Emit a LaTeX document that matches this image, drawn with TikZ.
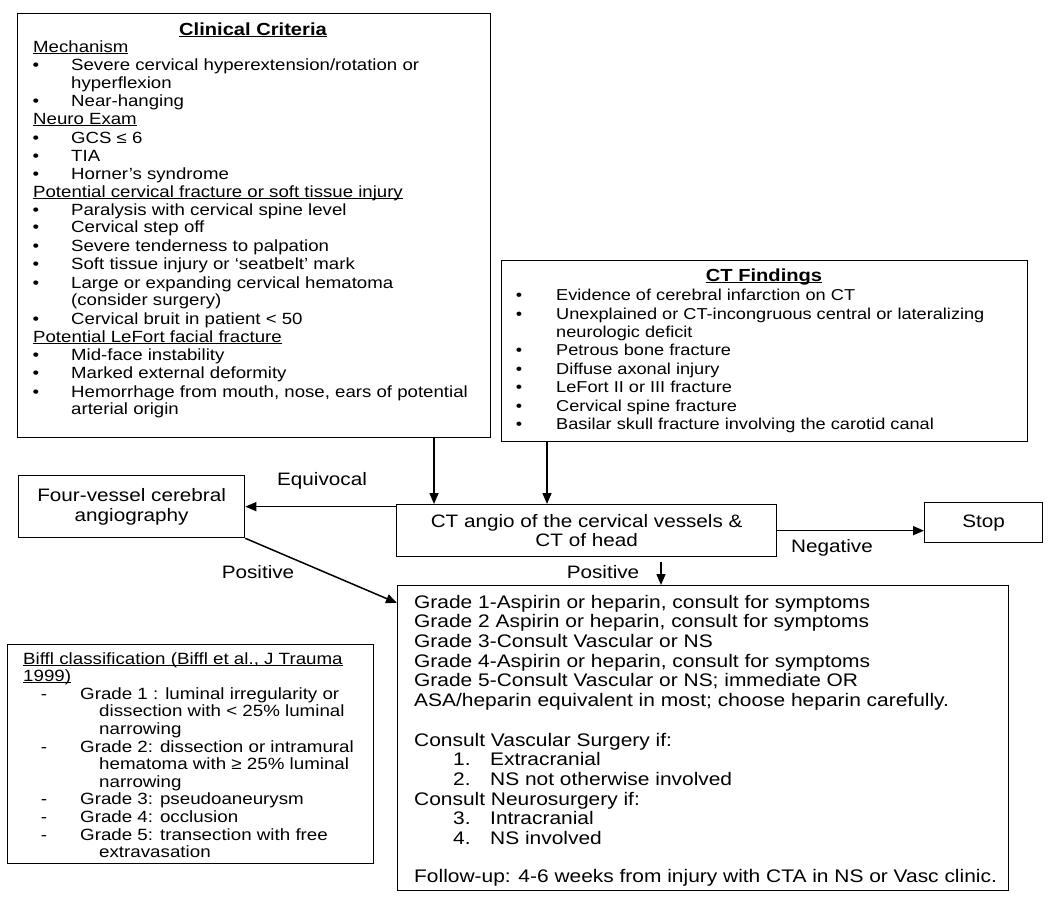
\documentclass[tikz,border=0pt]{standalone}
\usepackage{fontspec}
\setmainfont[FakeStretch=1.15]{Liberation Sans}
\usetikzlibrary{arrows.meta}
\newcounter{lnc}
\newcommand\tline[4][]{\stepcounter{lnc}\node[txt,#1] (L\arabic{lnc}) at (#2,#3) {#4};}
\newcommand\bitem[5]{\stepcounter{lnc}\node[txt,anchor=base] (B\arabic{lnc}) at (#1,#3) {#5};\tline{#2}{#3}{#4}}
\newcommand\ul[1]{\setbox0\hbox{#1}\rlap{\rule[-1.6pt]{\wd0}{0.9pt}}\box0}
\begin{document}
\begin{tikzpicture}[x=1pt,y=-1pt,
  box/.style={draw, line width=1.3pt, inner sep=0pt, anchor=north west},
  txt/.style={anchor=base west, inner sep=0pt},
  arr/.style={line width=1.5pt, -{Triangle[length=11pt,width=9pt]}},
  lbl/.style={inner sep=0pt, font=\fontsize{18}{20}\selectfont},
  fcc/.style={font=\fontsize{16.2}{18}\selectfont},
  fct/.style={font=\fontsize{15.8}{18}\selectfont},
  fgb/.style={font=\fontsize{18.2}{19.5}\selectfont},
  fbf/.style={font=\fontsize{16.3}{18}\selectfont}]
\useasboundingbox (0,0) rectangle (1054,902);

% ---------- boxes ----------
\node[box, minimum width=473pt, minimum height=424pt] (cc) at (17,13) {};
\node[box, minimum width=526pt, minimum height=181pt] (ctf) at (501,260) {};
\node[box, minimum width=226pt, minimum height=62pt, align=center, font=\fontsize{18}{20}\selectfont] (fv) at (18,475) {Four-vessel cerebral\\angiography};
\node[box, minimum width=380pt, minimum height=52pt, align=center, font=\fontsize{18}{19.5}\selectfont] (ang) at (396,504) {CT angio of the cervical vessels \&\\CT of head};
\node[box, minimum width=118pt, minimum height=40pt, font=\fontsize{18}{20}\selectfont] (stop) at (924,502) {Stop};
\node[box, minimum width=611pt, minimum height=305pt] (gb) at (397,585) {};
\node[box, minimum width=366pt, minimum height=219pt] (bf) at (7,644) {};

% ---------- Clinical criteria ----------
\node[anchor=base, inner sep=0pt, font=\bfseries\fontsize{17.5}{20}\selectfont] (cct) at (253,35) {\ul{Clinical Criteria}};
\begin{scope}[every node/.append style={fcc}]
\tline{33}{52}{\ul{Mechanism}}
\bitem{36}{71}{70}{Severe cervical hyperextension/rotation or}{\textbullet}
\tline{71}{88}{hyperflexion}
\bitem{36}{71}{106}{Near-hanging}{\textbullet}
\tline{33}{124}{\ul{Neuro Exam}}
\bitem{36}{71}{143}{GCS ≤ 6}{\textbullet}
\bitem{36}{71}{161}{TIA}{\textbullet}
\bitem{36}{71}{179}{Horner’s syndrome}{\textbullet}
\tline{33}{197}{\ul{Potential cervical fracture or soft tissue injury}}
\bitem{36}{71}{215}{Paralysis with cervical spine level}{\textbullet}
\bitem{36}{71}{232}{Cervical step off}{\textbullet}
\bitem{36}{71}{251}{Severe tenderness to palpation}{\textbullet}
\bitem{36}{71}{269}{Soft tissue injury or ‘seatbelt’ mark}{\textbullet}
\bitem{36}{71}{288}{Large or expanding cervical hematoma}{\textbullet}
\tline{71}{305}{(consider surgery)}
\bitem{36}{71}{324}{Cervical bruit in patient < 50}{\textbullet}
\tline{33}{342}{\ul{Potential LeFort facial fracture}}
\bitem{36}{71}{360}{Mid-face instability}{\textbullet}
\bitem{36}{71}{378}{Marked external deformity}{\textbullet}
\bitem{36}{71}{397}{Hemorrhage from mouth, nose, ears of potential}{\textbullet}
\tline{71}{414}{arterial origin}
\end{scope}

% ---------- CT findings ----------
\node[anchor=base, inner sep=0pt, font=\bfseries\fontsize{17.5}{20}\selectfont] (ctt) at (764,281) {\ul{CT Findings}};
\begin{scope}[every node/.append style={fct}]
\bitem{519}{556}{300}{Evidence of cerebral infarction on CT}{\textbullet}
\bitem{519}{556}{319}{Unexplained or CT-incongruous central or lateralizing}{\textbullet}
\tline{556}{337}{neurologic deficit}
\bitem{519}{556}{355}{Petrous bone fracture}{\textbullet}
\bitem{519}{556}{374}{Diffuse axonal injury}{\textbullet}
\bitem{519}{556}{392}{LeFort II or III fracture}{\textbullet}
\bitem{519}{556}{411}{Cervical spine fracture}{\textbullet}
\bitem{519}{556}{429}{Basilar skull fracture involving the carotid canal}{\textbullet}
\end{scope}

% ---------- Grade box ----------
\begin{scope}[every node/.append style={fgb}]
\tline{414}{608}{Grade 1-Aspirin or heparin, consult for symptoms}
\tline{414}{627}{Grade 2 Aspirin or heparin, consult for symptoms}
\tline{414}{647}{Grade 3-Consult Vascular or NS}
\tline{414}{667}{Grade 4-Aspirin or heparin, consult for symptoms}
\tline{414}{686}{Grade 5-Consult Vascular or NS; immediate OR}
\tline{414}{706}{ASA/heparin equivalent in most; choose heparin carefully.}
\tline{414}{746}{Consult Vascular Surgery if:}
\tline{453}{765}{1.}
\tline{490}{765}{Extracranial}
\tline{453}{785}{2.}
\tline{490}{785}{NS not otherwise involved}
\tline{414}{805}{Consult Neurosurgery if:}
\tline{453}{824}{3.}
\tline{490}{824}{Intracranial}
\tline{453}{844}{4.}
\tline{490}{844}{NS involved}
\tline{414}{882}{Follow-up: 4-6 weeks from injury with CTA in NS or Vasc clinic.}
\end{scope}

% ---------- Biffl ----------
\begin{scope}[every node/.append style={fbf}]
\tline{23}{664}{\ul{Biffl classification (Biffl et al., J Trauma}}
\tline{23}{681.6}{\ul{1999)}}
\bitem{44}{80}{699.2}{Grade 1 : luminal irregularity or}{-}
\tline{99}{716.8}{dissection with < 25\% luminal}
\tline{99}{734.4}{narrowing}
\bitem{44}{80}{752}{Grade 2: dissection or intramural}{-}
\tline{99}{769.6}{hematoma with ≥ 25\% luminal}
\tline{99}{787.2}{narrowing}
\bitem{44}{80}{804.8}{Grade 3: pseudoaneurysm}{-}
\bitem{44}{80}{822.4}{Grade 4: occlusion}{-}
\bitem{44}{80}{840}{Grade 5: transection with free}{-}
\tline{99}{857.6}{extravasation}
\end{scope}

% ---------- connectors ----------
\coordinate (xa) at (434,0);
\coordinate (xb) at (547,0);
\coordinate (p1) at (661,562);
\draw[arr] (cc.south -| xa) -- (ang.north -| xa);
\draw[arr] (ctf.south -| xb) -- (ang.north -| xb);
\draw[arr] (ang.west |- fv.east) -- (fv.east);
\draw[arr] (fv.south east) -- ([yshift=-18pt]gb.north west);
\draw[arr] (ang.east) -- (ang.east -| stop.west);
\draw[arr] (p1) -- (gb.north -| p1);

\node[lbl] (lq) at (322,481) {Equivocal};
\node[lbl] (lp1) at (258,572) {Positive};
\node[lbl] (ln) at (832,548) {Negative};
\node[lbl] (lp2) at (603,572) {Positive};
\end{tikzpicture}
\end{document}
